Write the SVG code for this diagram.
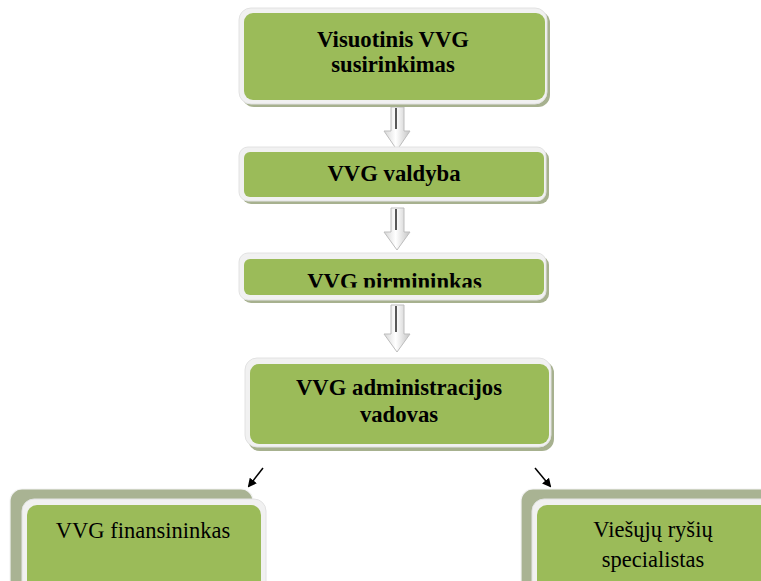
<svg xmlns="http://www.w3.org/2000/svg" width="761" height="581" viewBox="0 0 761 581">
<style>
.shadow{fill:#A7B18F}
.frame{fill:#F1F1F1;stroke:#E2E2E2;stroke-width:1}
.green{fill:#9BBB59}
.back{fill:#A9B393;stroke:#F4F4F4;stroke-width:1.2}
.tb{font-family:"Liberation Serif","Times New Roman",serif;font-weight:bold;font-size:22.7px;fill:#000;text-anchor:middle}
.tn{font-family:"Liberation Serif","Times New Roman",serif;font-size:22.5px;fill:#000;text-anchor:middle}
.barrow{fill:url(#ag);stroke:#BDBDBD;stroke-width:1}
.bline{stroke:#000;stroke-width:1.3}
.conn{stroke:#000;stroke-width:1.5;fill:none}
</style>
<defs>
<linearGradient id="ag" x1="0" y1="0" x2="1" y2="0">
<stop offset="0" stop-color="#D6D6D6"/>
<stop offset="0.45" stop-color="#FFFFFF"/>
<stop offset="1" stop-color="#C4C4C4"/>
</linearGradient>
<marker id="ah" markerWidth="9" markerHeight="9" refX="7" refY="4.5" orient="auto" markerUnits="userSpaceOnUse" viewBox="0 0 9 9">
<path d="M0,0 L9,4.5 L0,9 Z" fill="#000"/>
</marker>
<clipPath id="clip3"><rect x="244" y="259" width="300" height="28.5"/></clipPath>
</defs>
<g id="connectors">
<g id="arrow1">
<path class="barrow" d="M391,107 H404 V131 H410 L397,150 L384,131 H391 Z"/>
<line class="bline" x1="396" y1="108" x2="396" y2="129"/>
</g>
<g id="arrow2">
<path class="barrow" d="M391,208 H404 V232 H410 L397,250 L384,232 H391 Z"/>
<line class="bline" x1="396" y1="209" x2="396" y2="230"/>
</g>
<g id="arrow3">
<path class="barrow" d="M391,305 H404 V334 H410 L397,352 L384,334 H391 Z"/>
<line class="bline" x1="396" y1="306" x2="396" y2="332"/>
</g>
<line class="conn" x1="263" y1="468" x2="249" y2="486" marker-end="url(#ah)"/>
<line class="conn" x1="535" y1="468" x2="550" y2="486" marker-end="url(#ah)"/>
</g>
<g id="node1">
<rect class="shadow" x="242" y="11" width="308" height="96" rx="12"/>
<rect class="frame" x="239" y="8" width="308" height="96" rx="12"/>
<rect class="green" x="244" y="13" width="301" height="87" rx="9"/>
<text class="tb" x="393" y="47">Visuotinis VVG</text>
<text class="tb" x="393" y="72">susirinkimas</text>
</g>
<g id="node2">
<rect class="shadow" x="242" y="150" width="307" height="54" rx="9"/>
<rect class="frame" x="239" y="147" width="307" height="54" rx="9"/>
<rect class="green" x="244" y="152" width="300" height="45" rx="6"/>
<text class="tb" x="394" y="181">VVG valdyba</text>
</g>
<g id="node3">
<rect class="shadow" x="242" y="256" width="307" height="47" rx="9"/>
<rect class="frame" x="239" y="253" width="307" height="47" rx="9"/>
<rect class="green" x="244" y="259" width="300" height="36" rx="6"/>
<text class="tb" x="394.5" y="289" clip-path="url(#clip3)">VVG pirmininkas</text>
</g>
<g id="node4">
<rect class="shadow" x="248" y="361" width="306" height="90" rx="12"/>
<rect class="frame" x="245" y="358" width="306" height="89" rx="12"/>
<rect class="green" x="250" y="364" width="299" height="80" rx="9"/>
<text class="tb" x="399" y="395">VVG administracijos</text>
<text class="tb" x="399" y="422">vadovas</text>
</g>
<g id="node5">
<rect class="back" x="10" y="489" width="243" height="120" rx="12"/>
<rect class="frame" x="22" y="499" width="244" height="110" rx="12"/>
<rect class="green" x="27" y="505" width="234" height="100" rx="10"/>
<text class="tn" x="143" y="538">VVG finansininkas</text>
</g>
<g id="node6">
<rect class="back" x="521" y="489" width="260" height="120" rx="12"/>
<rect class="frame" x="532" y="499" width="250" height="110" rx="12"/>
<rect class="green" x="537" y="505" width="240" height="100" rx="10"/>
<text class="tn" x="653" y="537">Viešųjų ryšių</text>
<text class="tn" x="653" y="567">specialistas</text>
</g>
</svg>
